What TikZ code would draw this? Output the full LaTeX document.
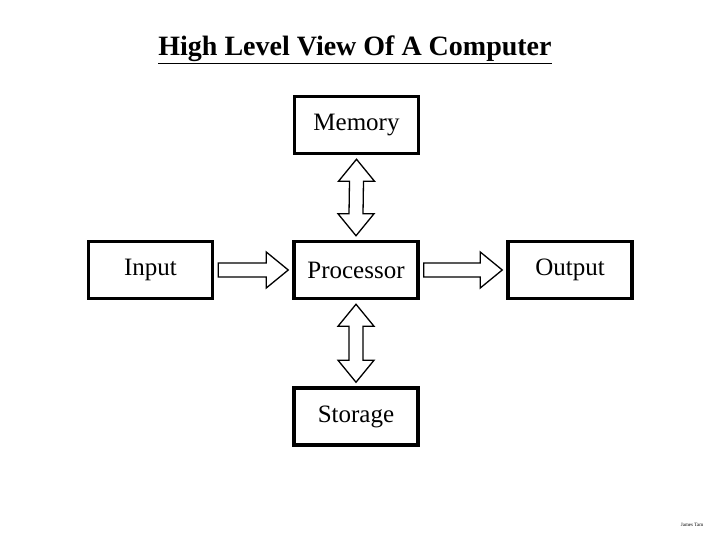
\documentclass[tikz,border=0pt]{standalone}
\usepackage{fontspec}
\setmainfont{Liberation Serif}
\usetikzlibrary{calc}
\newcommand{\harr}[2]{\draw[arr] ($(#1)+(4,-7)$) -- ($(#2)+(-26,-7)$) -- ($(#2)+(-26,-18)$) -- ($(#2)+(-4,0)$) -- ($(#2)+(-26,18)$) -- ($(#2)+(-26,7)$) -- ($(#1)+(4,7)$) -- cycle;}
\newcommand{\varr}[2]{\draw[arr] ($(#1)+(0,4)$) -- ($(#1)+(18,26)$) -- ($(#1)+(7,26)$) -- ($(#2)+(7,-26)$) -- ($(#2)+(18,-26)$) -- ($(#2)+(0,-4)$) -- ($(#2)+(-18,-26)$) -- ($(#2)+(-7,-26)$) -- ($(#1)+(-7,26)$) -- ($(#1)+(-18,26)$) -- cycle;}
\begin{document}
\begin{tikzpicture}[x=1pt,y=-1pt,
  box/.style={draw,line width=3.5pt,minimum width=124pt,minimum height=57pt,font=\fontsize{25}{28}\selectfont,inner sep=0pt},
  arr/.style={draw,line width=1.3pt,line join=miter}]
\useasboundingbox (0,0) rectangle (720,540);
\node[font=\fontsize{28}{32}\selectfont\bfseries] (title) at (355,50) {\underline{High Level View Of A Computer}};
\node[box] (mem) at (356.5,125) {Memory};
\node[box] (in) at (150.5,270) {Input};
\node[box] (proc) at (356,270) {Processor};
\node[box] (out) at (570,270) {Output};
\node[box] (sto) at (356,416.5) {Storage};
\harr{in.east}{proc.west}
\harr{proc.east}{out.west}
\varr{mem.south}{proc.north}
\varr{proc.south}{sto.north}
\node[font=\fontsize{5}{6}\selectfont] (fn) at (692,525) {James Tam};
\end{tikzpicture}
\end{document}
